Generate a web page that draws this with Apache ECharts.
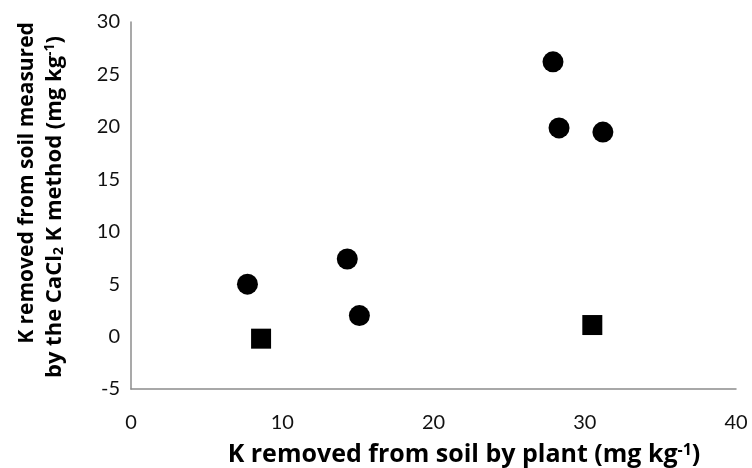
<!DOCTYPE html>
<html>
<head>
<meta charset="utf-8">
<script src="https://cdn.jsdelivr.net/npm/echarts@6/dist/echarts.min.js"></script>
<style>
  html, body { margin: 0; padding: 0; background: #fff; }
  #chart { width: 752px; height: 468px; }
</style>
</head>
<body>
<div id="chart"></div>
<script>
// K removed by plant (x) vs K removed measured by CaCl2 (y), mg/kg
const circleX = [7.7, 14.3, 15.1, 27.9, 28.3, 31.2];
const circleY = [5.0, 7.4, 2.0, 26.2, 19.9, 19.5];
const squareX = [8.6, 30.5];
const squareY = [-0.2, 1.1];

const xTicks = [0, 10, 20, 30, 40];
const yTicks = [-5, 0, 5, 10, 15, 20, 25, 30];

const TICK_FONT = 'Lato, "Open Sans", sans-serif';
const TITLE_FONT = '"Open Sans", Lato, sans-serif';

const pairs = (xs, ys) => xs.map((x, i) => [x, ys[i]]);

// rich-text styles for bold titles with super/subscripts
function titleRich(size) {
  const small = Math.round(size * 0.62);
  const shift = Math.round(size * 0.4);
  return {
    b: { fontFamily: TITLE_FONT, fontWeight: 'bold', fontSize: size, color: '#000' },
    sup: { fontFamily: TITLE_FONT, fontWeight: 'bold', fontSize: small, color: '#000', verticalAlign: 'top', padding: [0, 0, shift, 0] },
    sub: { fontFamily: TITLE_FONT, fontWeight: 'bold', fontSize: small, color: '#000', verticalAlign: 'bottom', padding: [shift, 0, 0, 0] }
  };
}

const chart = echarts.init(document.getElementById('chart'), null, { renderer: 'canvas' });

chart.setOption({
  animation: false,
  backgroundColor: '#fff',
  grid: { left: 131, right: 16, top: 22, bottom: 79, containLabel: false },
  xAxis: {
    type: 'value',
    min: xTicks[0], max: xTicks[xTicks.length - 1], interval: 10,
    axisLine: { show: true, onZero: false, lineStyle: { color: '#8c8c8c', width: 1.5 } },
    axisTick: { show: false },
    splitLine: { show: false },
    axisLabel: { fontFamily: TICK_FONT, fontSize: 20, color: '#111', margin: 24 }
  },
  yAxis: {
    type: 'value',
    min: yTicks[0], max: yTicks[yTicks.length - 1], interval: 5,
    axisLine: { show: true, onZero: false, lineStyle: { color: '#8c8c8c', width: 1.5 } },
    axisTick: { show: false },
    splitLine: { show: false },
    axisLabel: { fontFamily: TICK_FONT, fontSize: 20, color: '#111', margin: 11 }
  },
  graphic: [
    {
      type: 'text',
      x: 464, y: 455,
      style: {
        text: '{b|K removed from soil by plant (mg kg}{sup|-1}{b|)}',
        rich: titleRich(25), align: 'center', verticalAlign: 'middle'
      }
    },
    {
      type: 'text',
      x: 27, y: 183, rotation: Math.PI / 2,
      style: {
        text: '{b|K removed from soil measured}',
        rich: titleRich(21), align: 'center', verticalAlign: 'middle'
      }
    },
    {
      type: 'text',
      x: 55, y: 207, rotation: Math.PI / 2,
      style: {
        text: '{b|by the CaCl}{sub|2}{b| K method (mg kg}{sup|-1}{b|)}',
        rich: titleRich(22), align: 'center', verticalAlign: 'middle'
      }
    }
  ],
  series: [
    {
      type: 'scatter',
      symbol: 'circle',
      symbolSize: 21,
      itemStyle: { color: '#000', opacity: 1 },
      data: pairs(circleX, circleY)
    },
    {
      type: 'scatter',
      symbol: 'rect',
      symbolSize: 20,
      itemStyle: { color: '#000', opacity: 1 },
      data: pairs(squareX, squareY)
    }
  ]
});
</script>
</body>
</html>
